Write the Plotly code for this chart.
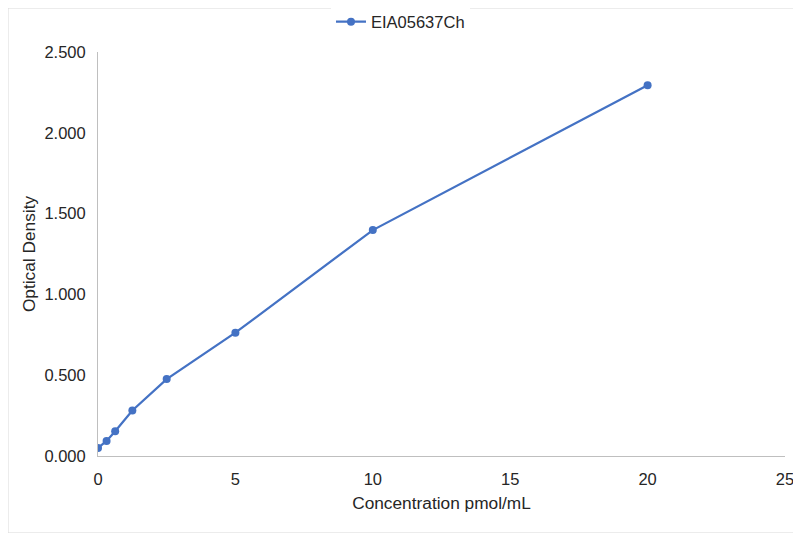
import plotly.graph_objects as go

concentration = [0, 0.3125, 0.625, 1.25, 2.5, 5, 10, 20]
optical_density = [0.050, 0.093, 0.153, 0.282, 0.476, 0.763, 1.398, 2.295]
series_name = "EIA05637Ch"

blue = "#4472C4"
axis_grey = "#BFBFBF"
text_col = "#262626"
font = "Liberation Sans, Arial, sans-serif"
title_font = dict(family=font, size=17.3, color=text_col)

fig = go.Figure()
fig.add_trace(go.Scatter(
    x=concentration, y=optical_density, name=series_name,
    mode="lines+markers",
    line=dict(color=blue, width=2.25),
    marker=dict(color=blue, size=8),
))

# the page body adds 8px, so margins are taken 8px smaller on top/left
fig.update_layout(
    width=801, height=533,
    margin=dict(l=90, r=24, t=44, b=85, autoexpand=False),
    plot_bgcolor="white", paper_bgcolor="white",
    font=dict(family=font, size=16.5, color=text_col),
    showlegend=True,
    legend=dict(orientation="h", xref="container", x=0.49, xanchor="center",
                yref="container", y=1 - 14 / 533, yanchor="middle",
                font=dict(family=font, size=16.5, color=text_col)),
    xaxis=dict(range=[0, 25], dtick=5, showgrid=False, zeroline=False,
               showline=True, linecolor=axis_grey, linewidth=1,
               ticks="", ticklabelstandoff=8,
               title=dict(text="Concentration pmol/mL", standoff=10,
                          font=title_font)),
    yaxis=dict(range=[0, 2.5], dtick=0.5, tickformat=".3f", showgrid=False,
               zeroline=False, showline=True, linecolor=axis_grey, linewidth=1,
               ticks="", ticklabelstandoff=8,
               title=dict(text="Optical Density", standoff=4,
                          font=title_font)),
)

# thin frame round the whole chart
fig.add_shape(type="rect", xref="paper", yref="paper",
              x0=-90 / 687, x1=1 + 16 / 687, y0=-77 / 404, y1=1 + 44 / 404,
              line=dict(color="#D9D9D9", width=1), fillcolor="rgba(0,0,0,0)",
              layer="below")

fig.write_html("out.html")
